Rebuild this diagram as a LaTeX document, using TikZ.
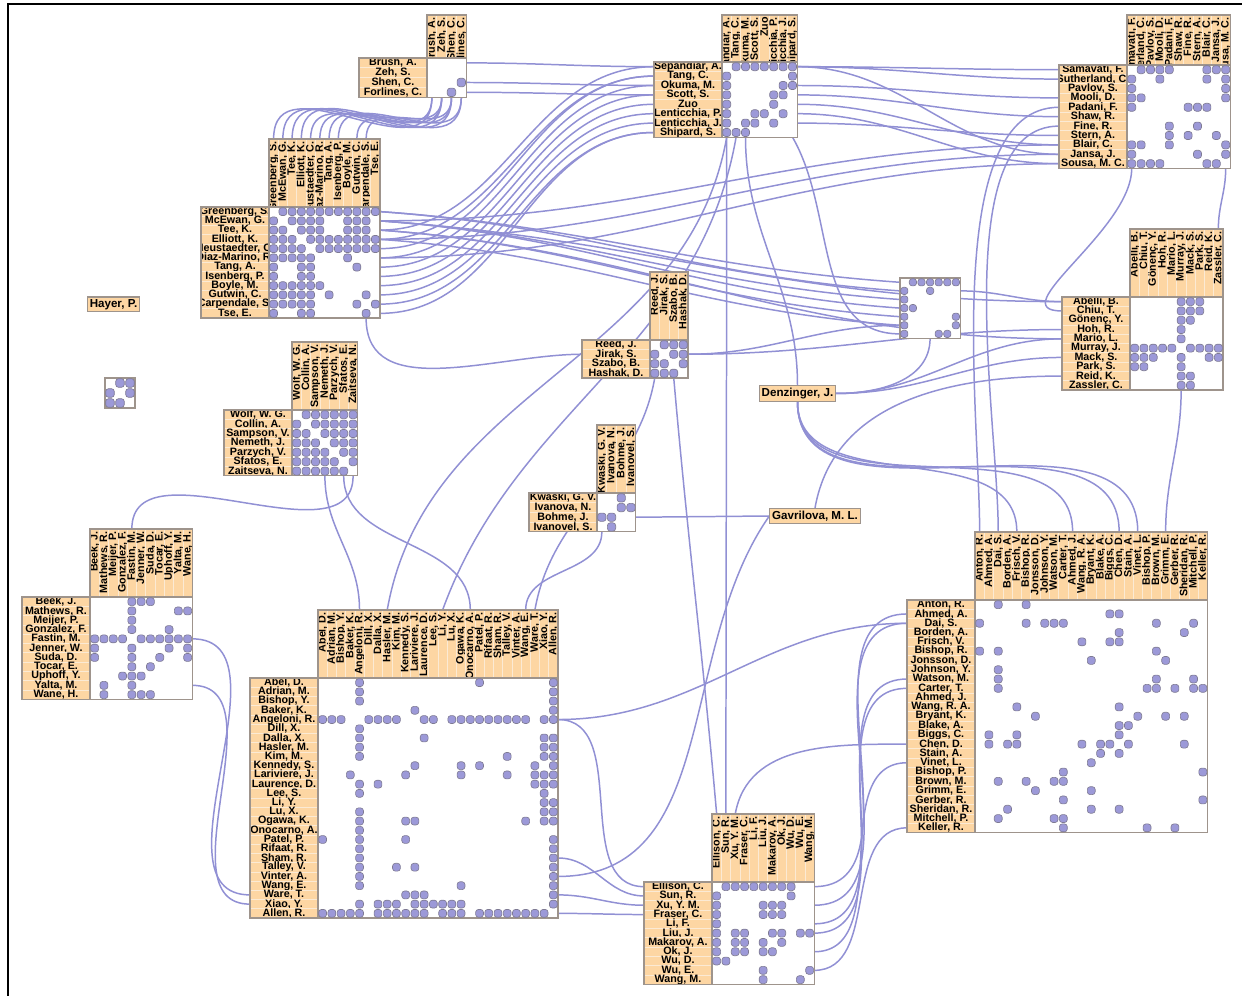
\documentclass[tikz,border=0pt]{standalone}
\usepackage{fontspec}
\setsansfont{Liberation Sans}
\usetikzlibrary{calc}
\definecolor{lblfill}{HTML}{FDD6A3}
\definecolor{lblsep}{HTML}{FBEAD4}
\definecolor{mtxline}{HTML}{9E948C}
\definecolor{cellfill}{HTML}{9C99D8}
\definecolor{celldraw}{HTML}{7E7A92}
\definecolor{linkcol}{HTML}{9190D4}
\pgfdeclarelayer{edges}
\pgfsetlayers{edges,main}

\tikzset{
  lbltxt/.style={font=\sffamily\bfseries\fontsize{6.1}{6.1}\selectfont, inner sep=0pt},
  lblsepline/.style={draw=lblsep, line width=0.35pt},
  mtxbox/.style={draw=mtxline, line width=0.6pt},
  cellbox/.style={fill=cellfill, draw=celldraw, line width=0.35pt, rounded corners=1.6pt},
  link/.style={draw=linkcol, line width=0.85pt},
  namebox/.style={fill=lblfill, draw=mtxline, line width=0.6pt, inner sep=1.3pt,
    minimum height=8.5pt, font=\sffamily\bfseries\fontsize{6.6}{6.6}\selectfont}
}

% one NodeTrix matrix: name, left, top, size, cell, label width, names, symmetric pairs, single cells
\newcommand{\ntx}[9]{%
  \pgfmathsetmacro\ntxw{#4*#5}%
  \pgfmathtruncatemacro\ntxlast{#4-1}%
  \pgfmathsetmacro\ntxtop{max(15,#3-#6)}%
  \ifnum#6>0
    % row labels
    \begin{scope}
      \clip (#2-#6,#3) rectangle (#2,#3+\ntxw);
      \fill[lblfill] (#2-#6,#3) rectangle (#2,#3+\ntxw);
      \foreach \nm [count=\k from 0] in {#7} {
        \draw[lblsepline] (#2-#6,#3+\k*#5) -- (#2,#3+\k*#5);
        \node[lbltxt] at (#2-#6/2,#3+\k*#5+#5/2) {\nm};
      }
    \end{scope}
    \draw[mtxbox] (#2-#6,#3) rectangle (#2,#3+\ntxw);
    % column labels
    \begin{scope}
      \clip (#2,\ntxtop) rectangle (#2+\ntxw,#3);
      \fill[lblfill] (#2,\ntxtop) rectangle (#2+\ntxw,#3);
      \foreach \nm [count=\k from 0] in {#7} {
        \draw[lblsepline] (#2+\k*#5,\ntxtop) -- (#2+\k*#5,#3);
        \node[lbltxt,rotate=90,anchor=east] at (#2+\k*#5+#5/2,\ntxtop+2) {\nm};
      }
    \end{scope}
    \draw[mtxbox] (#2,\ntxtop) rectangle (#2+\ntxw,#3);
  \fi
  % the matrix itself
  \node[mtxbox, fill=white, inner sep=0pt, outer sep=0pt, anchor=north west,
    minimum width={\ntxw*0.02cm}, minimum height={\ntxw*0.02cm}] (#1) at (#2,#3) {};
  \def\ntxtmp{#8}%
  \ifx\ntxtmp\empty\else
    \foreach \rr/\cc in {#8} {
      \path[cellbox] (#2+\cc*#5+0.7,#3+\rr*#5+0.7) rectangle ++(#5-1.4,#5-1.4);
      \path[cellbox] (#2+\rr*#5+0.7,#3+\cc*#5+0.7) rectangle ++(#5-1.4,#5-1.4);
    }
  \fi
  \def\ntxtmp{#9}%
  \ifx\ntxtmp\empty\else
    \foreach \rr/\cc in {#9} {
      \path[cellbox] (#2+\cc*#5+0.7,#3+\rr*#5+0.7) rectangle ++(#5-1.4,#5-1.4);
    }
  \fi
  % anchors for the links
  \foreach \k in {0,...,\ntxlast} {
    \coordinate (#1-L\k) at (#2-#6,#3+\k*#5+#5/2);
    \coordinate (#1-R\k) at (#2+\ntxw,#3+\k*#5+#5/2);
    \coordinate (#1-T\k) at (#2+\k*#5+#5/2,\ntxtop);
    \coordinate (#1-B\k) at (#2+\k*#5+#5/2,#3+\ntxw);
  }%
}

\begin{document}
\begin{tikzpicture}[x=0.02cm,y=-0.02cm]
\useasboundingbox (0,0) rectangle (1242,996);

% frame
\draw[line width=1.6pt] (8,996) -- (8,4) -- (1242,4);

% matrices
\ntx{A}{427}{58}{4}{9.8}{68}{{Brush, A.},{Zeh, S.},{Shen, C.},{Forlines, C.}}{2/3}{}
\ntx{B}{269}{207}{12}{9.25}{68}{{Greenberg, S.},{McEwan, G.},{Tee, K.},{Elliott, K.},{Neustaedter, C.},{Diaz-Marino, R.},{Tang, A.},{Isenberg, P.},{Boyle, M.},{Gutwin, C.},{Carpendale, S.},{Tse, E.}}
  {0/1,0/2,0/3,0/4,0/5,0/6,0/7,0/8,0/9,0/10,0/11,1/2,1/3,1/4,1/5,1/8,1/9,1/10,2/3,2/4,2/5,2/8,2/9,2/10,3/4,3/5,3/6,3/7,3/8,3/9,3/10,3/11,4/5,4/6,4/7,4/8,4/9,4/10,4/11,5/8,6/9,9/10,10/11}{}
\ntx{C}{722}{62}{8}{9.4}{68}{{Sepandiar, A.},{Tang, C.},{Okuma, M.},{Scott, S.},{Zuo},{Lenticchia, P.},{Lenticchia, J.},{Shipard, S.}}
  {0/1,0/2,0/3,0/4,0/5,0/6,0/7,1/7,2/7,2/6,3/5,3/6,4/5,5/6}{}
\ntx{D}{1127}{65}{11}{9.4}{68}{{Samavati, F.},{Sutherland, C.},{Pavlov, S.},{Mooli, D.},{Padani, F.},{Shaw, R.},{Fine, R.},{Stern, A.},{Blair, C.},{Jansa, J.},{Sousa, M. C.}}
  {0/1,0/2,0/3,0/4,0/8,0/9,0/10,1/3,1/10,2/10,3/10,4/6,4/7,4/8,6/7,7/9,8/10,9/10,1/8}{}
\ntx{E}{900}{278}{7}{8.6}{0}{}{0/1,0/2,0/3,0/4,0/5,0/6,1/3,4/6,5/6}{}
\ntx{F}{1130}{297}{10}{9.3}{68}{{Abelli, B.},{Chiu, T.},{Gönenç, Y.},{Hoh, R.},{Mario, L.},{Murray, J.},{Mack, S.},{Park, S.},{Reid, K.},{Zassler, C.}}
  {0/5,1/5,2/5,3/5,4/5,5/6,5/7,5/8,5/9,0/6,1/6,2/6,0/7,1/7,6/8,6/9}{}
\ntx{G}{650}{340}{4}{9.5}{68}{{Reed, J.},{Jirak, S.},{Szabo, B.},{Hashak, D.}}{0/1,0/2,0/3,1/2,1/3,2/3}{}
\ntx{H}{105}{378}{3}{10}{0}{}{0/1,0/2,1/2}{}
\ntx{I}{292}{410}{7}{9.4}{68}{{Wolf, W. G.},{Collin, A.},{Sampson, V.},{Nemeth, J.},{Parzych, V.},{Sfatos, E.},{Zaitseva, N.}}
  {0/1,0/2,0/3,0/4,0/5,0/6,1/2,1/3,1/4,1/5,1/6,2/3,2/4,2/5,2/6,3/4,3/5,3/6,4/5,4/6,5/6}{}
\ntx{J}{597}{493}{4}{9.7}{68}{{Kwaski, G. V.},{Ivanova, N.},{Bohme, J.},{Ivanovel, S.}}{0/2,1/2,1/3}{}
\ntx{K}{90}{597}{11}{9.3}{68}{{Beek, J.},{Mathews, R.},{Meijer, P.},{Gonzalez, F.},{Fastin, M.},{Jenner, W.},{Suda, D.},{Tocar, E.},{Uphoff, Y.},{Yalta, M.},{Wane, H.}}
  {0/4,1/4,2/4,3/4,4/5,4/6,4/7,4/8,4/9,4/10,1/9,1/10,3/8,5/8,0/6,6/10,6/7,0/5,5/10}{}
\ntx{L}{318}{678}{26}{9.23}{68}{{Abel, D.},{Adrian, M.},{Bishop, Y.},{Baker, K.},{Angeloni, R.},{Dill, X.},{Dalla, X.},{Hasler, M.},{Kim, M.},{Kennedy, S.},{Lariviere, J.},{Laurence, D.},{Lee, S.},{Li, Y.},{Lu, X.},{Ogawa, K.},{Onocarno, A.},{Patel, P.},{Rifaat, R.},{Sham, R.},{Talley, V.},{Vinter, A.},{Wang, E.},{Ware, T.},{Xiao, Y.},{Allen, R.}}
  {0/4,1/4,2/4,4/5,4/6,4/7,4/8,4/11,4/12,4/14,4/15,4/16,4/17,4/18,4/19,4/20,4/21,4/22,4/24,4/25,0/25,1/25,2/25,3/25,6/25,7/25,8/25,9/25,10/25,11/25,13/25,14/25,15/25,17/25,18/25,19/25,20/25,21/25,22/25,23/25,24/25,3/10,6/11,9/10,9/15,10/15,9/17,8/20,10/20,15/22,0/17,9/23,10/23,11/23,10/24,11/24,12/24,6/24,7/24,8/24,13/24,14/24,15/24}{}
\ntx{M}{712}{882}{11}{9.3}{68}{{Ellison, C.},{Sun, R.},{Xu, Y. M.},{Fraser, C.},{Li, F.},{Liu, J.},{Makarov, A.},{Ok, J.},{Wu, D.},{Wu, E.},{Wang, M.}}
  {0/1,0/2,0/3,0/4,0/5,0/6,0/7,0/8,2/5,2/6,2/7,3/5,3/6,3/7,5/6,5/7,6/7,5/9,5/10,9/10,1/8}{}
\ntx{N}{975}{600}{25}{9.3}{68}{{Anton, R.},{Ahmed, A.},{Dai, S.},{Borden, A.},{Frisch, V.},{Bishop, R.},{Jonsson, D.},{Johnson, Y.},{Watson, M.},{Carter, T.},{Ahmed, J.},{Wang, R. A.},{Bryant, K.},{Blake, A.},{Biggs, C.},{Chen, D.},{Stain, A.},{Vinet, L.},{Bishop, P.},{Brown, M.},{Grimm, E.},{Gerber, R.},{Sheridan, R.},{Mitchell, P.},{Keller, R.}}
  {}{0/2,0/5,1/14,1/15,2/0,2/5,2/7,2/8,2/9,2/19,2/23,3/22,3/15,4/11,4/14,4/15,5/0,5/2,5/19,6/20,6/12,7/2,8/2,9/2,8/19,9/18,9/19,9/21,9/23,9/24,8/23,11/4,11/15,12/6,12/17,12/20,12/22,13/15,13/16,14/1,15/1,14/4,15/3,15/4,15/11,15/13,15/14,14/15,15/16,15/22,16/13,16/15,17/12,18/24,18/9,19/2,19/5,19/8,19/9,20/6,20/12,21/9,21/24,22/3,22/12,22/15,23/2,23/8,23/9,24/9,24/18,24/21}

% single authors
\node[namebox] (hayer) at (113.5,304.5) {Hayer, P.};
\node[namebox] (denz) at (797.5,393.5) {Denzinger, J.};
\node[namebox] (gavr) at (815,516) {Gavrilova, M. L.};

% links
\begin{pgfonlayer}{edges}
% B and A
\foreach \s/\t in {0/0,1/1,2/2,3/3,4/0,5/1,6/2,7/3,9/1,10/2}
  \draw[link] (B-T\s) to[out=90,in=-90,looseness=1.3] (A-B\t);
\foreach \s/\t in {0/0,2/2,3/3}
  \draw[link] (A-R\s) to[out=0,in=180] (C-L\t);
% B to the right
\foreach \s/\t in {2/0,3/1,4/1,5/2,6/3,7/4,8/5,9/6,10/7,11/7}
  \draw[link] (B-R\s) to[out=0,in=180] (C-L\t);
\foreach \s/\t in {0/0,0/1,1/2,1/3,2/4,3/5}
  \draw[link] (B-R\s) to[out=-4,in=176] (E-L\t);
\foreach \s/\t in {1/8,3/9,5/10}
  \draw[link] (B-R\s) to[out=0,in=180] (D-L\t);
\foreach \s/\t in {1/0,2/4}
  \draw[link] (B-R\s) to[out=-4,in=180] (F-L\t);
\draw[link] (B-B10) to[out=-90,in=180] (G-L1);
% C
\foreach \s/\t in {0/0,0/1,0/9,2/3,3/5,4/8,5/10,6/7}
  \draw[link] (C-R\s) to[out=0,in=180] (D-L\t);
\draw[link] (C-B0) to[out=-90,in=90] (M-T1);
\draw[link] (C-B0) to[out=-100,in=80] (L-T7);
\draw[link] (C-B1) to[out=-100,in=70] (L-T13);
\draw[link] (C-B2) to[out=-90,in=90] (denz.north);
\draw[link] (C-B7) to[out=-60,in=180] (E-L6);
% D
\foreach \s/\t in {4/0,6/2}
  \draw[link] (D-L\s) to[out=180,in=90,looseness=0.7] (N-T\t);
\draw[link] (D-B0) to[out=-90,in=180] (F-L1);
\draw[link] (D-B10) to[out=-90,in=90] (F-T9);
% Denzinger
\foreach \t in {4,10,15,17}
  \draw[link] (denz.south) to[out=-90,in=90] (N-T\t);
\draw[link] (denz.east) to[out=0,in=180] (F-L4);
\draw[link] (denz.east) to[out=0,in=180] (F-L6);
\draw[link] (denz.east) to[out=0,in=-90] (E-B3);
% E, F
\draw[link] (E-R1) to[out=0,in=180] (F-L0);
\draw[link] (F-B5) to[out=-90,in=90] (N-T20);
% G
\draw[link] (G-R1) to[out=0,in=180] (E-L5);
\draw[link] (G-R1) to[out=0,in=180] (F-L3);
\draw[link] (G-B2) to[out=-85,in=95] (M-T0);
\draw[link] (G-B0) to[out=-100,in=80] (L-T23);
% Gavrilova, J
\draw[link] (J-R2) -- (gavr.west);
\draw[link] (gavr.north) to[out=80,in=180] (F-L8);
\draw[link] (gavr.west) to[out=235,in=0] (L-R21);
\draw[link] (J-B0) to[out=-90,in=90] (L-T22);
% I, K
\draw[link] (I-B3) to[out=-90,in=90] (L-T4);
\draw[link] (I-B5) to[out=-90,in=90] (L-T16);
\draw[link] (I-B6) to[out=-90,in=90] (K-T4);
\draw[link] (K-R4) to[out=0,in=180] (L-L23);
\draw[link] (K-R9) to[out=0,in=180] (L-L24);
% L
\draw[link] (L-R4) to[out=0,in=180] (N-L2);
\draw[link] (L-R4) to[out=0,in=180] (M-L0);
\foreach \s/\t in {19/1,23/2,25/3}
  \draw[link] (L-R\s) to[out=0,in=180] (M-L\t);
% M
\foreach \s/\t in {0/1,2/2,4/8,5/9,7/17,9/24}
  \draw[link] (M-R\s) to[out=0,in=180] (N-L\t);
\draw[link] (M-T2) to[out=80,in=180] (N-L15);
\end{pgfonlayer}
\end{tikzpicture}
\end{document}
